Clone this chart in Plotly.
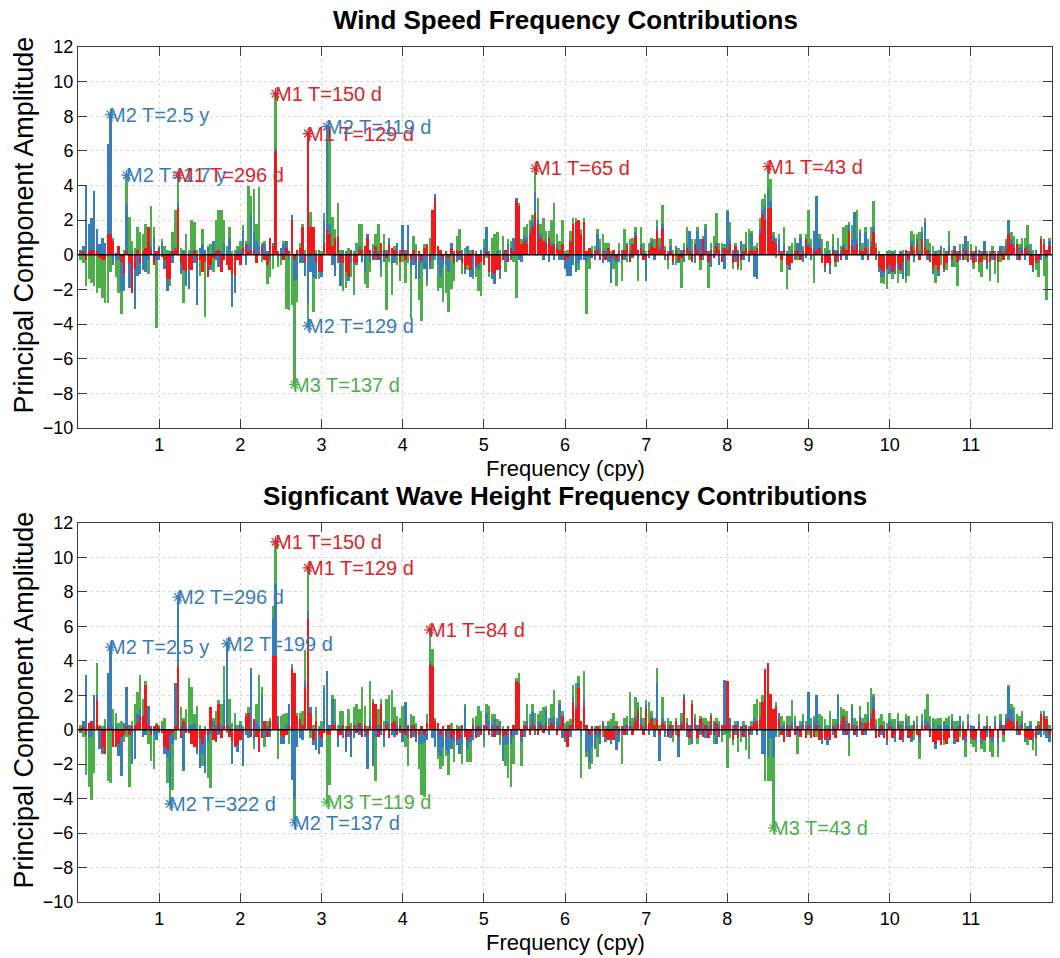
import plotly.graph_objects as go

# ---------------- data ----------------
n_years = 30  # frequency resolution 1/30 cpy
freq = [k / n_years for k in range(1, 360)]

wind_m1 = [
 0.1, 0.2, -0.3, 0.2, 0.3, 0.3, 0.2, -0.2, -0.3, -0.3,
 1.2, 1.2, 0.8, 0.1, 0.5, -0.4, -1.1, 0.2, -0.5, -2.2,
 -0.8, 0.3, -0.5, 0.2, 0.4, 1.6, 0.3, -0.6, 0.2, 0.4,
 -0.1, -0.3, -1.4, -1.4, 0.2, 0.3, 2.7, -0.5, -0.9, -1.0,
 -0.8, -0.9, 0.3, -0.4, -0.3, -1.0, -0.4, -1.3, -0.6, -0.2,
 0.2, 0.3, -1.0, -0.3, -0.6, -0.9, -1.1, -1.2, -0.3, -0.6,
 0.4, 0.6, 0.2, 0.3, 0.2, -0.5, 0.1, 0.5, -0.3, -0.6,
 1.0, 0.5, 6.0, 0.2, 0.1, -0.3, 0.4, 0.2, 2.0, -0.3,
 0.3, 0.4, 1.6, -0.4, 7.0, 1.6, 1.6, -0.5, -1.0, -1.0,
 0.7, 1.5, 1.2, 0.5, 1.0, 1.1, -0.4, -0.5, -1.0, -1.2,
 0.3, -0.5, -0.4, 0.3, 0.3, 0.5, 1.0, 0.3, -0.3, 0.5,
 -0.3, 0.7, 0.3, -0.2, 0.6, 0.4, 0.3, 0.2, -0.4, 0.3,
 -0.3, 0.2, -0.3, 0.3, -0.4, 0.2, -0.3, 0.4, 0.6, -0.4,
 2.6, 3.3, 0.5, 0.3, -0.3, 0.2, -0.2, 0.4, -0.5, 0.3,
 0.2, -0.5, -0.8, -0.6, -0.9, 0.3, -0.7, -0.5, -0.4, -0.6,
 0.2, -1.0, -1.0, -1.1, -0.9, -0.8, -0.3, 0.3, -0.4, 0.4,
 0.2, 3.1, 2.8, 0.6, 0.8, 0.6, 1.2, 1.6, 2.4, 1.8,
 1.0, 0.8, 0.6, 1.0, 0.5, 0.6, 0.4, 0.3, 0.6, -0.3,
 -0.2, 0.8, 1.8, 1.9, 2.0, 1.2, 1.9, 0.2, 0.4, -0.2,
 0.2, 0.3, -0.3, 0.2, -0.3, 0.4, -0.2, 0.3, -0.3, 0.2,
 -0.3, 0.3, 0.5, -0.4, 0.6, 1.1, 0.3, 0.4, -0.3, -0.2,
 0.3, 0.5, 0.4, 1.4, 0.3, 1.5, 0.3, -0.3, 0.2, -0.4,
 0.2, -0.3, -0.2, 0.3, 0.4, 0.2, -0.4, 0.6, 0.3, -0.3,
 0.9, 0.2, -0.4, 0.3, -0.2, 0.5, 0.3, -0.4, 0.4, 0.3,
 0.6, -0.5, 0.5, -0.7, -0.3, 0.2, 0.4, 0.2, 0.3, 0.2,
 0.4, 1.2, 2.3, 2.0, 2.7, 2.7, 0.8, 0.6, 0.3, -0.3,
 0.3, -0.6, -0.6, -0.5, 0.2, 0.3, -0.3, 0.2, 0.9, 0.5,
 0.4, 0.3, 0.2, 0.4, -0.5, -0.7, -0.5, -0.6, 0.3, -0.4,
 0.2, -0.3, 0.4, 0.3, 1.4, 0.5, 0.3, 0.6, 0.3, 0.2,
 0.4, -0.3, 0.5, 1.3, 0.4, -0.7, -0.9, -1.0, -0.8, -0.6,
 -1.0, -0.7, -0.5, -0.9, -0.4, 0.3, -0.3, 0.5, 0.3, 0.6,
 -0.3, 0.9, 0.4, 0.3, -0.4, -0.8, -0.6, -0.9, 0.2, -0.8,
 -0.5, 0.2, -0.3, 0.3, -0.4, 0.2, -0.3, 0.3, -0.4, 0.2,
 -0.5, 0.3, -0.5, -0.4, 0.2, -0.5, -0.4, 0.2, -0.3, -0.4,
 0.2, -0.3, 0.3, 1.2, 0.6, 0.4, 0.6, -0.3, 0.3, 0.4,
 0.2, -0.6, -0.7, -0.5, -0.3, 0.9, 0.6, 0.3, 0.5]

wind_m2 = [
 0.2, 0.3, 4.0, 1.6, 1.8, 3.4, 1.3, 0.6, 1.0, 0.7,
 5.2, 6.9, -0.6, -0.3, -0.3, -1.7, -1.0, 2.7, -1.4, 0.2,
 -2.3, -1.2, -0.6, -0.9, -1.0, -0.3, 0.2, 1.0, -0.3, -0.3,
 0.7, -0.5, -0.7, 0.2, -0.5, 0.1, 0.3, -0.6, 0.3, -0.8,
 -1.2, 0.2, -0.5, -2.5, 0.4, 0.6, 0.3, 0.4, -0.3, 0.8,
 -0.3, -0.7, 0.2, 0.7, 0.2, 1.0, -1.9, -1.0, 0.2, 0.3,
 1.0, -0.6, 0.4, 2.0, 1.2, 0.8, 0.4, 0.2, 0.6, 0.2,
 -0.3, 0.2, 0.1, -0.3, 0.3, 0.6, 0.4, -0.3, 0.3, -1.2,
 -1.4, -0.5, -0.5, -0.8, -2.8, -1.0, -1.3, -0.9, 0.3, -0.3,
 1.3, 5.9, 0.6, -0.6, -1.2, -0.5, -1.4, 0.3, 0.2, -0.3,
 -0.5, 0.2, -0.2, 0.2, -0.4, -1.0, 0.2, -0.4, 0.2, -0.3,
 0.2, -0.8, -0.4, 0.3, 0.4, -0.5, -0.5, 0.5, 0.3, 1.4,
 0.3, 1.5, -0.4, -0.6, -1.0, -1.4, -0.2, -0.8, -1.5, -0.4,
 -0.3, 0.2, -0.6, -1.3, -0.4, -0.6, -0.8, 0.3, 0.2, -0.4,
 -0.3, 0.3, -0.3, 0.5, -0.4, -1.2, 0.2, -0.3, 0.3, 0.4,
 1.4, 0.2, -0.4, -0.6, 0.2, -0.6, 0.2, -0.4, 0.6, -0.3,
 0.8, 0.2, -0.3, -0.4, 0.3, 0.4, 0.3, 0.3, 1.2, 0.3,
 0.2, -0.3, 0.3, -0.4, 0.2, -0.3, 0.2, -0.3, -0.3, -0.5,
 -1.0, -1.2, -0.6, -1.0, -0.5, -0.3, -0.3, -0.4, -0.2, 0.2,
 -0.3, 0.9, 0.4, -0.5, 0.3, -0.4, -1.4, -0.3, -0.2, -0.4,
 0.3, -0.3, 0.2, 0.3, -0.2, 0.2, -0.3, 0.2, 0.3, -1.3,
 -0.2, 0.3, -0.3, 0.2, 0.2, 0.3, -0.3, 0.2, 0.3, -0.2,
 0.3, -0.2, 0.3, -0.4, 0.2, 1.2, 0.3, -0.5, 1.1, 0.9,
 -0.3, 1.3, 0.2, -0.7, 0.3, 0.2, -0.6, 0.4, -0.8, 2.2,
 0.4, 0.3, -0.4, 0.3, 0.8, -0.3, 0.3, -0.4, 0.9, -1.3,
 -1.4, 0.3, 0.3, 0.9, 1.1, 0.4, 0.3, 0.4, 0.6, 0.2,
 0.3, 0.2, -0.3, 0.3, -0.3, 0.4, 1.0, -0.4, -0.2, 0.2,
 -0.3, 1.1, 3.2, 0.5, 0.3, -0.3, 0.2, -0.5, 0.2, 0.3,
 -0.4, 0.3, 0.2, -0.3, 0.3, 0.4, 2.2, 0.3, 1.0, -0.3,
 0.9, 0.3, 0.3, 0.3, -0.3, -0.3, -0.4, -0.3, 0.2, -0.5,
 0.2, -0.4, -0.3, 0.2, -1.0, -1.3, 0.2, 0.3, -0.4, 0.3,
 0.2, 0.4, 1.5, -0.3, 0.3, -0.3, 0.2, -0.3, 0.3, -0.2,
 0.2, 0.3, -0.4, 0.2, 0.2, -0.3, 0.4, 0.8, 0.3, -0.3,
 0.2, -0.4, 0.3, 0.2, 0.6, -0.3, 0.2, -0.3, 0.2, 0.2,
 0.3, 0.2, 0.4, 0.8, 0.3, 0.2, -0.3, 0.4, 0.2, -0.3,
 0.3, 0.2, -0.3, 0.3, -0.2, -0.3, 0.3, -0.2, 0.3]

wind_m3 = [
 -0.3, -0.5, -1.5, -1.4, -1.6, -1.8, -2.2, -1.7, -2.2, -2.5,
 -2.8, -1.0, 0.2, -1.0, -1.9, -1.3, 0.3, 1.7, 2.2, 0.6,
 0.4, 1.3, 1.3, 1.0, 1.4, -0.8, 2.3, 0.6, -3.9, 0.1,
 0.2, 0.5, 0.3, -0.4, 1.1, 2.2, 1.6, 0.4, -1.9, 1.2,
 0.3, 1.8, 1.6, 0.3, -0.9, 0.9, -3.2, 0.1, 0.6, -0.8,
 1.8, 2.3, 2.4, 1.3, 0.3, 0.6, 0.2, 0.3, 0.3, 0.5,
 0.3, 0.2, 3.4, 1.1, 2.4, 1.0, 3.4, -0.4, 0.2, -1.1,
 -1.0, -0.8, 3.2, -0.4, -0.6, 0.2, -3.1, -2.9, -2.9, -6.0,
 -1.3, 0.3, 0.2, 0.3, -1.3, 0.9, -2.0, 0.3, -0.4, 0.2,
 0.4, 0.0, 5.4, 1.7, 0.5, 1.9, 0.3, -1.6, -0.9, 0.4,
 -0.8, -1.8, 0.7, 1.3, 1.5, -0.7, -1.9, -0.6, 0.4, 0.7,
 1.6, -0.5, 0.9, -3.0, -0.4, -1.8, 0.2, -0.6, -1.1, -0.4,
 -1.3, -0.5, -3.0, 0.8, 0.6, -1.2, -3.3, 0.2, -0.3, 1.0,
 -0.5, -0.3, -1.5, -0.6, -2.0, -1.6, -2.3, -2.0, -1.0, 0.8,
 1.3, -0.6, 0.4, -0.3, 0.3, -0.2, -0.6, -1.3, -2.0, 0.5,
 -0.2, -0.3, 1.0, 1.2, 1.1, 0.3, 0.9, -0.6, 0.3, 0.4,
 -0.4, -2.5, 0.2, 0.3, 0.5, 0.8, 0.5, 0.4, 1.4, 1.2,
 0.6, 1.3, 0.5, 0.4, 1.3, 2.4, 0.6, 0.5, 1.4, 0.2,
 0.3, 0.6, 0.3, 0.2, -0.4, 0.3, 0.2, -3.0, -0.6, 0.3,
 0.3, 0.3, 0.5, 1.0, 0.4, 0.3, 0.2, -0.5, -1.3, 0.5,
 -1.2, 1.2, -0.4, 0.6, 0.4, 0.3, -1.2, 1.0, 0.4, 0.2,
 0.4, 0.2, 0.5, 0.4, 0.5, 1.1, 0.2, -0.5, 0.4, 0.3,
 -0.6, 0.4, -1.7, 0.4, 1.0, -0.3, 0.6, 0.3, 0.2, -0.6,
 0.2, 0.3, -1.5, 0.4, 0.8, 1.7, 0.4, 0.3, 0.2, 0.1,
 0.9, -0.3, 0.2, -0.2, -0.6, 0.4, 0.6, 1.3, 0.2, 0.3,
 0.3, 0.6, 0.6, 0.6, 1.3, 1.3, 0.2, -0.2, 0.3, -0.7,
 1.0, -1.4, 0.5, 0.4, 0.8, -0.3, 0.2, 0.3, 0.3, 1.9,
 0.5, -1.6, 0.0, 0.3, 0.6, 0.4, 0.6, 0.3, 0.7, -0.3,
 0.8, 0.2, 1.0, 1.4, 0.2, 0.8, 0.0, 1.7, 0.2, 0.5,
 0.3, 0.6, 0.8, 1.5, 0.3, 0.2, -0.3, -0.4, -1.2, 0.3,
 -0.4, 0.3, -0.8, -0.2, 0.3, -0.3, -0.9, 0.6, 0.9, 0.3,
 1.1, 0.3, 0.2, 0.6, 0.4, 0.5, -1.0, 0.3, -0.6, 0.4,
 -0.4, 0.9, 0.3, -0.7, -1.4, 0.4, 0.2, -0.3, 0.5, 0.4,
 -0.3, 0.2, -0.5, -0.9, -0.3, 0.2, -1.1, 0.3, -0.8, -1.2,
 -0.4, 0.3, 0.2, -0.3, 0.4, 0.5, 0.3, 0.2, 0.5, 0.6,
 1.2, 0.4, 0.3, -0.4, -0.8, 0.2, -1.2, -2.4, 0.2]

wave_m1 = [
 0.1, 0.2, -0.3, 0.4, 0.5, 0.2, 1.7, 0.2, -1.0, -1.4,
 0.2, 0.1, -1.0, -1.0, -0.8, -0.4, -0.3, 0.2, -0.3, 0.2,
 0.3, 0.4, 0.8, 0.8, 2.6, 0.3, -0.3, 0.2, 0.3, 0.2,
 -0.2, -1.0, -1.2, -0.3, -0.2, 0.2, 3.7, -0.5, 0.5, -0.2,
 -0.2, -0.8, -1.0, -1.1, -0.5, -0.8, -0.3, -0.3, 1.3, -0.6,
 -0.7, 1.5, -0.5, 0.2, 0.3, -0.4, -0.7, -1.0, -0.9, -0.6,
 -0.2, 0.8, 1.0, -0.4, 0.6, -0.4, -1.3, -0.5, 0.5, -0.4,
 0.5, 4.3, 4.3, 0.3, -0.3, -0.4, -0.3, 0.2, 3.6, 3.3,
 0.8, 0.6, 0.3, 2.5, 6.4, 1.0, -0.6, 0.5, -0.3, -0.5,
 -0.2, -0.3, -0.3, 0.3, 0.3, -0.4, -0.3, 0.3, -0.5, 0.2,
 -0.3, 0.3, -0.2, 0.4, -0.4, 0.3, -0.3, 0.3, 1.6, 1.5,
 -0.4, 1.5, -0.3, 0.3, -0.5, 0.4, 0.5, -0.3, 0.3, -0.2,
 -0.3, 0.3, -0.5, 0.3, -0.4, -0.3, 0.2, -0.3, 0.4, 3.8,
 3.7, 0.5, 0.4, -0.3, 0.2, -0.4, 0.3, -0.5, -0.3, -0.6,
 -0.5, 0.3, -0.4, -0.6, -0.4, 0.3, -0.5, 0.2, -0.3, 0.3,
 0.2, -0.3, 0.3, -0.4, 0.2, -0.3, -0.4, -0.3, 0.2, -0.3,
 0.3, 2.8, 2.7, -0.4, 0.3, 0.2, -0.3, 0.3, 0.2, -0.3,
 0.3, -0.2, 0.3, 0.2, 0.4, 0.3, -0.3, 0.2, 0.8, -0.4,
 -1.0, 0.3, 1.6, 1.2, 2.4, 0.5, 1.4, 0.3, -0.3, 0.2,
 -0.3, 0.2, -0.3, 0.3, -0.4, -0.6, -0.5, -0.6, 0.2, -0.3,
 0.2, -0.3, 0.3, 0.2, -0.3, 0.5, 1.1, 0.3, -0.3, 1.2,
 0.4, 0.6, 0.3, 0.6, -0.3, 0.4, 0.3, -0.4, 0.3, -0.3,
 0.5, -0.4, 0.3, 1.8, 0.4, -0.5, 1.5, 0.3, -0.5, 0.6,
 -0.4, 0.3, -0.5, 0.8, -0.3, 0.4, -0.4, 0.3, 0.3, 2.8,
 0.3, -0.6, 0.3, -0.5, 0.2, -0.4, 0.3, -0.3, 0.2, 0.4,
 0.5, 0.6, 1.6, 3.5, 3.9, 2.1, 1.2, 1.4, 0.7, -0.3,
 -0.7, 0.3, -0.4, 0.3, -0.3, 0.2, -0.4, 0.3, -0.5, 0.2,
 -0.5, -0.4, 0.3, -0.6, -0.5, -0.6, -0.4, -0.6, 0.2, -0.5,
 0.4, 0.3, 0.8, -0.3, 0.4, 0.3, -0.3, 0.2, 0.5, -0.3,
 0.4, 0.5, 0.6, 1.2, -0.5, -0.4, 0.3, -0.5, -0.6, 0.2,
 -0.5, -0.3, 0.3, -0.6, -0.4, 0.2, -0.5, -0.4, 0.3, -0.3,
 -0.4, 0.3, 0.2, 0.3, -0.4, -0.7, -0.8, -0.6, -0.9, -0.6,
 -0.8, -0.5, 0.2, -0.5, -0.7, 0.3, -0.6, -0.4, 0.3, -0.5,
 -0.6, -0.4, 0.2, -0.5, -0.6, 0.3, -0.5, -0.4, 0.2, -0.5,
 0.3, -0.3, 0.4, 0.6, 0.5, 0.3, 0.5, -0.3, 0.3, -0.4,
 -0.5, -0.6, -0.4, -0.5, 0.3, 0.9, 0.8, 0.6, -0.3]

wave_m2 = [
 -0.2, 0.3, 3.2, -0.5, -0.4, 1.8, 0.3, -1.1, -0.4, 0.2,
 3.1, 4.7, 0.2, 0.3, -0.7, -2.3, 0.4, 2.3, 0.3, -2.0,
 -1.7, 0.5, 0.4, -0.4, -0.3, 1.1, 0.2, -0.3, -0.6, -0.2,
 0.2, -0.4, -0.4, -3.1, -0.6, 2.5, 4.0, 0.3, -2.4, 0.4,
 0.3, 0.3, 0.4, -0.3, -1.7, -0.6, -2.2, -0.4, -0.3, 0.5,
 0.3, -0.3, 0.3, 1.5, 4.7, 0.3, -1.3, 0.2, -0.4, 0.3,
 -1.9, -0.3, -0.5, 3.6, -0.6, 0.5, 0.2, 2.0, -0.5, 0.2,
 -0.4, 2.1, 4.2, 0.5, -0.5, -0.4, 0.3, 1.3, -2.9, -4.0,
 -1.0, -0.5, -0.6, 0.3, 0.5, 0.3, -0.3, -1.2, -1.1, -0.5,
 2.4, 3.4, 0.3, 1.5, 0.2, -0.6, 0.2, -0.5, -0.8, -0.4,
 -1.3, -0.5, 0.3, -0.3, 0.2, -0.4, -2.0, 0.3, -2.1, -0.4,
 0.3, -0.3, -0.7, 0.2, 0.4, -0.3, -0.4, 0.3, -0.2, -0.5,
 1.6, -0.5, 0.3, -0.4, -0.3, -0.5, -0.8, -0.4, -0.6, 0.2,
 -0.5, -1.0, -1.3, -1.2, -1.0, -0.8, -1.4, -0.6, -0.4, -0.3,
 -0.9, -0.8, 1.3, -0.5, -0.3, -0.6, 0.3, -0.4, 0.3, -0.6,
 0.8, 0.5, -0.4, 0.6, -0.3, 0.5, -1.4, -0.6, -0.8, -0.5,
 -0.4, -0.3, 0.0, -0.3, -0.4, 0.3, 0.3, 0.8, -0.3, 0.4,
 0.2, 0.3, 0.9, -0.3, 0.3, 0.5, 0.4, 1.3, -0.5, -0.3,
 0.3, -0.4, 0.3, 0.2, 0.3, -0.4, 0.3, -1.3, -1.6, -1.0,
 -0.8, -0.4, -0.5, 0.2, -0.3, 0.2, -0.3, 0.2, -1.2, -0.4,
 -0.3, 0.3, -0.3, 0.3, 0.2, 0.3, 0.2, 0.4, 0.2, 0.3,
 -0.3, 0.2, -0.4, 2.1, -1.5, 0.3, -0.4, 0.3, -0.5, 0.3,
 -0.3, -1.2, 0.2, 0.2, -0.4, 0.3, -0.8, 0.4, 0.3, -0.3,
 0.4, -0.5, 0.2, -0.3, 0.5, -0.8, 0.3, -0.3, 2.6, -0.2,
 0.4, 0.3, -0.3, 0.5, -0.3, 0.3, -0.5, 0.2, -0.3, 0.3,
 -0.3, 0.2, -1.4, -1.5, -1.6, -0.5, -1.6, -0.4, 0.3, 0.2,
 0.3, -0.4, 0.2, 0.2, 0.5, -0.3, 0.3, 0.2, 0.3, 2.0,
 0.3, 0.5, 1.7, 0.3, -0.3, 0.2, -0.5, 0.2, -0.3, 0.3,
 1.5, 0.2, -0.3, 0.5, -0.5, 1.0, 0.3, -0.4, 0.3, 0.4,
 -0.3, 0.3, 0.4, 0.7, 0.3, 0.2, -0.3, 0.2, -0.3, 0.3,
 0.2, -0.4, 0.2, 0.3, -0.3, 0.4, 0.2, -0.3, 0.2, 0.3,
 -0.3, 0.2, 0.4, 0.2, 0.3, 0.4, -0.3, 0.3, 0.2, 0.5,
 0.3, 0.2, 0.4, -0.3, 0.2, 0.5, 0.2, -0.3, 0.2, 0.3,
 0.2, -0.3, 0.3, -0.3, 0.2, -0.4, 0.2, -0.3, 0.3, -0.4,
 0.2, 0.3, 0.3, 1.9, 0.7, 0.4, -0.3, 0.3, 0.2, -0.3,
 0.2, 0.3, -0.3, 0.2, -0.3, -0.4, 0.3, -0.5, -0.4]

wave_m3 = [
 0.2, -0.4, -2.3, -2.8, -3.7, -2.5, 1.9, 0.1, 0.2, 0.4,
 -3.0, -3.1, 1.0, 0.7, 0.4, 0.5, -0.4, -0.4, -3.0, 0.3,
 1.2, 1.3, 2.0, 1.0, 0.2, -0.8, -1.5, -2.0, 0.1, 0.1,
 0.3, 0.7, -1.5, -0.9, -2.7, -0.6, 0.0, 1.0, 0.2, 0.8,
 2.7, 2.2, 0.5, 1.4, 0.3, -0.7, 0.2, -2.1, -3.1, 0.2,
 0.8, 0.2, 1.2, 2.0, -0.2, 1.5, 0.4, 0.8, 0.3, 0.2,
 0.2, 0.2, 0.3, 0.0, -0.5, 1.0, 3.0, 0.5, -0.5, 0.3,
 0.2, 0.8, 2.4, -1.7, 0.8, 0.9, 0.7, -0.8, 0.2, -1.4,
 0.2, 0.4, 0.8, 1.8, 2.5, -0.5, 0.3, 0.8, 0.2, 0.5,
 0.2, -3.9, -2.9, 0.2, 1.3, 0.3, 0.9, 0.8, 0.2, 1.0,
 0.4, 1.0, 1.2, 0.8, 2.3, 1.1, 0.2, 2.2, 0.2, -2.6,
 0.9, 0.3, 0.5, 1.3, 1.6, 1.9, 0.8, 0.5, 0.4, 1.4,
 -0.7, -1.6, 0.6, 0.5, 0.4, -1.5, -3.0, -3.2, 0.5, 1.8,
 1.0, 0.2, -0.4, -0.8, -1.1, -0.3, -1.2, 0.4, -1.2, 0.3,
 0.2, -1.2, 0.2, -0.8, -1.2, 0.4, 0.5, 1.2, 0.8, -0.4,
 0.5, 0.9, 0.6, 0.3, 0.4, -0.6, 0.2, -1.2, -2.0, -2.5,
 -1.6, 0.2, 0.6, -1.4, 0.2, 1.0, 0.6, 0.4, 0.8, 0.5,
 0.6, 1.0, 0.2, 0.5, 0.8, 1.5, 0.3, 0.2, 0.3, 0.4,
 0.2, 0.3, 0.7, 1.3, 0.4, -2.4, 1.7, -0.3, -0.4, -1.0,
 0.2, -1.2, 0.3, -0.4, 0.2, 0.3, 0.6, 0.8, 0.3, 0.2,
 -1.7, 0.4, 0.5, 1.7, 0.5, 1.1, 0.3, 0.6, 0.5, 0.2,
 1.2, 0.3, 0.4, 0.9, 0.3, 1.2, 0.2, 0.4, 0.2, -0.4,
 0.2, 0.3, 0.5, 0.1, 0.3, -0.4, 0.2, 0.2, -0.3, 0.2,
 0.3, 0.4, 0.3, 0.2, -0.5, 0.3, 0.2, -0.4, -0.3, -2.0,
 -0.5, -0.3, 0.2, -0.8, -0.4, 0.2, -0.7, -1.4, 0.3, 0.8,
 1.3, 0.8, 0.4, -1.5, -1.4, -2.5, -4.1, 0.2, -0.4, 0.6,
 0.2, 0.5, 0.6, 1.2, 0.3, -1.1, 0.2, 0.4, 0.2, -0.3,
 0.4, 0.3, -0.4, 0.6, 0.8, 0.4, 0.3, 0.9, 0.4, 0.3,
 0.2, 0.8, 0.4, 0.6, -1.0, 0.2, 0.4, 0.3, 0.6, 0.3,
 0.5, 0.8, 1.4, 0.2, 0.3, 0.5, 0.6, 0.3, 0.4, 0.5,
 0.4, 0.6, 0.5, 0.2, 0.5, 0.3, 0.6, 0.3, -0.6, 0.5,
 -1.0, 0.4, 0.6, 1.6, 0.5, 0.3, 0.6, 0.4, 0.5, -0.3,
 0.4, 0.6, 0.3, 0.5, 0.3, -0.4, 0.3, -0.9, 0.4, -0.3,
 -0.4, -0.6, 0.4, -0.3, -0.7, 0.5, -0.8, -0.9, 0.3, -0.7,
 0.4, -0.4, 0.2, 0.1, 0.3, 0.6, 0.4, 0.5, 0.6, 0.4,
 -0.4, 0.2, -0.5, -1.0, 0.2, 0.2, -0.3, 0.2, 0.3]

# peak labels: (bar number k, mode, text)
wind_labels = [
    (12, 2, "M2 T=2.5 y"), (18, 2, "M2 T=1.7 y"), (37, 1, "M1 T=296 d"),
    (73, 1, "M1 T=150 d"), (85, 1, "M1 T=129 d"), (92, 2, "M2 T=119 d"),
    (85, 2, "M2 T=129 d"), (80, 3, "M3 T=137 d"), (169, 1, "M1 T=65 d"),
    (255, 1, "M1 T=43 d")]
wave_labels = [
    (12, 2, "M2 T=2.5 y"), (37, 2, "M2 T=296 d"), (55, 2, "M2 T=199 d"),
    (73, 1, "M1 T=150 d"), (85, 1, "M1 T=129 d"), (130, 1, "M1 T=84 d"),
    (34, 2, "M2 T=322 d"), (80, 2, "M2 T=137 d"), (92, 3, "M3 T=119 d"),
    (257, 3, "M3 T=43 d")]

titles = ["Wind Speed Frequency Contributions",
          "Signficant Wave Height Frequency Contributions"]
xticks = list(range(1, 12))
yticks = list(range(-10, 13, 2))

# ---------------- styling ----------------
bar_colors = {1: "#F2171B", 2: "#377EB8", 3: "#4DAF4A"}
txt_colors = {1: "#D8262B", 2: "#3A7DB6", 3: "#4DAF4A"}
FONT = "Liberation Sans, Arial, sans-serif"
W, H = 1060, 958


def px(xp):  # window pixel -> paper x
    return xp / W


def py(yp):  # window pixel -> paper y
    return 1 - yp / H


x0, x1 = 78, 1052
panels = [(47, 428), (523, 902)]  # pixel top/bottom of each plot box

fig = go.Figure()
datasets = [(wind_m1, wind_m2, wind_m3, wind_labels),
            (wave_m1, wave_m2, wave_m3, wave_labels)]

annotations = []
shapes = []
for p, (m1, m2, m3, labels) in enumerate(datasets):
    xa = "x" if p == 0 else "x2"
    ya = "y" if p == 0 else "y2"
    modes = {1: m1, 2: m2, 3: m3}
    for m in (1, 2, 3):
        fig.add_trace(go.Bar(x=freq, y=modes[m], xaxis=xa, yaxis=ya,
                             marker=dict(color=bar_colors[m], line=dict(width=0)),
                             width=0.9 / n_years, showlegend=False,
                             name="M%d" % m))
    # markers + labels at the stacked tip of the labelled bar
    for k, m, text in labels:
        i = k - 1
        vals = [m1[i], m2[i], m3[i]]
        v = modes[m][i]
        if v >= 0:
            ytip = sum(a for a in vals if a > 0)
        else:
            ytip = sum(a for a in vals if a < 0)
        fig.add_trace(go.Scatter(x=[freq[i]], y=[ytip], xaxis=xa, yaxis=ya,
                                 mode="markers", showlegend=False,
                                 marker=dict(symbol="asterisk-open", size=9,
                                             color=txt_colors[m],
                                             line=dict(color=txt_colors[m], width=1.2))))
        annotations.append(dict(x=freq[i], y=ytip, xref=xa, yref=ya,
                                text=text, showarrow=False, xanchor="left",
                                yanchor="middle", xshift=-3,
                                font=dict(family=FONT, size=20, color=txt_colors[m])))
    # zero line on top of bars
    shapes.append(dict(type="line", xref=xa + " domain", yref=ya,
                       x0=0, x1=1, y0=0, y1=0,
                       line=dict(color="black", width=1.6), layer="above"))
    top, bot = panels[p]
    # title
    annotations.append(dict(x=px((x0 + x1) / 2), y=py(top - 27),
                            xref="paper", yref="paper", text="<b>%s</b>" % titles[p],
                            showarrow=False, xanchor="center", yanchor="middle",
                            font=dict(family=FONT, size=26, color="black")))
    # x title
    annotations.append(dict(x=px((x0 + x1) / 2), y=py(bot + 40),
                            xref="paper", yref="paper", text="Frequency (cpy)",
                            showarrow=False, xanchor="center", yanchor="middle",
                            font=dict(family=FONT, size=22, color="black")))
    # y title
    annotations.append(dict(x=px(23), y=py((top + bot) / 2 - 12),
                            xref="paper", yref="paper",
                            text="Principal Component Amplitude", textangle=-90,
                            showarrow=False, xanchor="center", yanchor="middle",
                            font=dict(family=FONT, size=27, color="black")))

axis_common = dict(showline=True, linecolor="#3c3c3c", linewidth=1, mirror="allticks",
                   ticks="inside", ticklen=9, tickcolor="#3c3c3c", tickwidth=1,
                   showgrid=True, gridcolor="#d8d8d8", griddash="dot", gridwidth=1,
                   zeroline=False, automargin=False,
                   tickfont=dict(family=FONT, size=18, color="black"))

layout = dict(
    width=W, height=H, margin=dict(l=0, r=0, t=0, b=0, pad=0, autoexpand=False),
    paper_bgcolor="white", plot_bgcolor="white",
    barmode="relative", bargap=0, showlegend=False,
    annotations=annotations, shapes=shapes,
)
for p, (top, bot) in enumerate(panels):
    sfx = "" if p == 0 else "2"
    layout["xaxis" + sfx] = dict(axis_common, domain=[px(x0), px(x1)], range=[0, 12],
                                 tickvals=xticks, anchor="y" + sfx)
    layout["yaxis" + sfx] = dict(axis_common, domain=[py(bot), py(top)],
                                 range=[-10, 12], tickvals=yticks, anchor="x" + sfx)

fig.update_layout(**layout)
# remove the browser's default 8px body margin so the figure fills the window
fig.write_html("out.html",
               config={"displayModeBar": False},
               post_script="document.body.style.margin='0px';"
                           "document.body.style.overflow='hidden';")
